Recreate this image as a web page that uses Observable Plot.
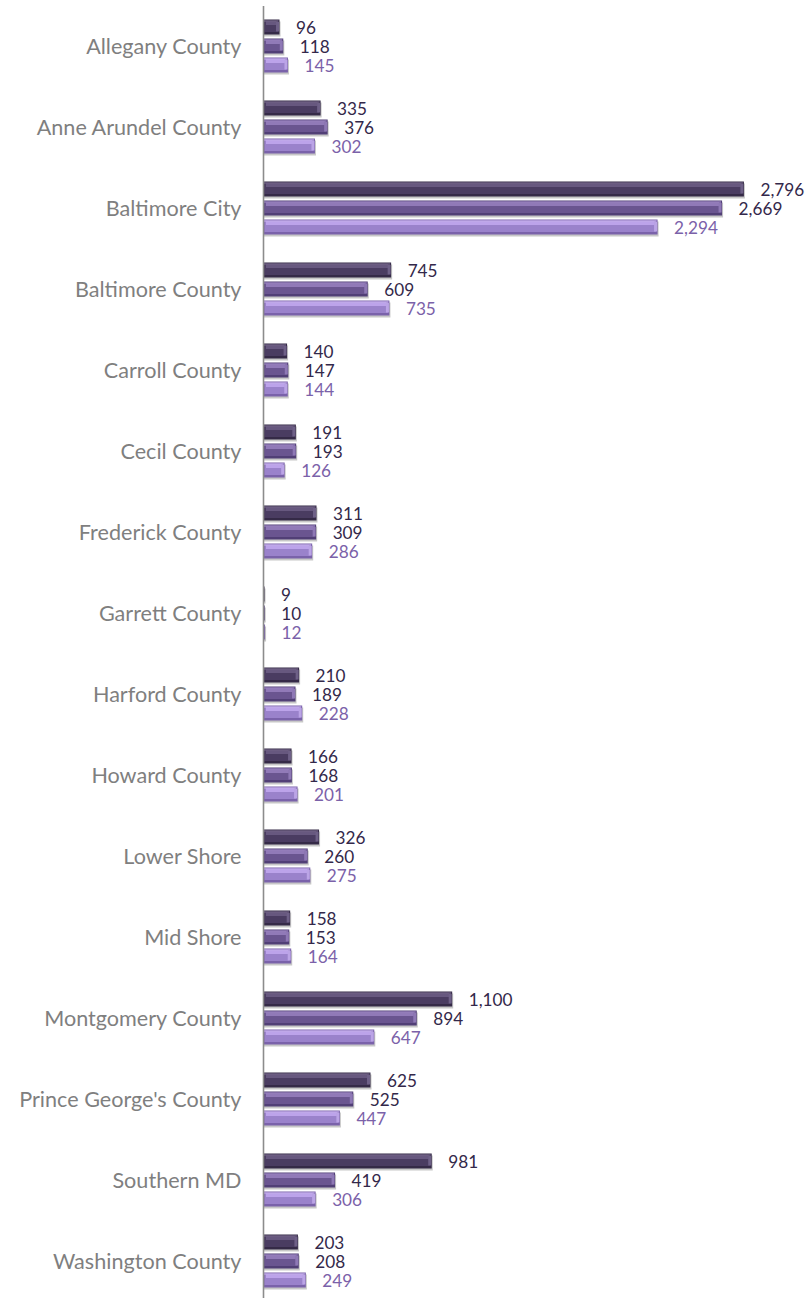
<!DOCTYPE html>
<html>
<head>
<meta charset="utf-8">
<script src="https://cdn.jsdelivr.net/npm/d3@7"></script>
<script src="https://cdn.jsdelivr.net/npm/@observablehq/plot@0.6"></script>
<style>
  html, body { margin: 0; padding: 0; background: #fff; overflow: hidden; }
  #chart svg { display: block; }
</style>
</head>
<body>
<div id="chart"></div>
<script>
const categories = [
  "Allegany County", "Anne Arundel County", "Baltimore City", "Baltimore County",
  "Carroll County", "Cecil County", "Frederick County", "Garrett County",
  "Harford County", "Howard County", "Lower Shore", "Mid Shore",
  "Montgomery County", "Prince George's County", "Southern MD", "Washington County"
];
const seriesNames = ["Series 1", "Series 2", "Series 3"];
const series1 = [96, 335, 2796, 745, 140, 191, 311, 9, 210, 166, 326, 158, 1100, 625, 981, 203];
const series2 = [118, 376, 2669, 609, 147, 193, 309, 10, 189, 168, 260, 153, 894, 525, 419, 208];
const series3 = [145, 302, 2294, 735, 144, 126, 286, 12, 228, 201, 275, 164, 647, 447, 306, 249];

const palette = {
  "Series 1": {edge: "#352a47", base: "#4a3c61", hi: "#67587f", top: "#85779b", end: "#6e6087", text: "#33284a"},
  "Series 2": {edge: "#513f76", base: "#6a5590", hi: "#917ab8", top: "#b29ad8", end: "#8e78b5", text: "#33284a"},
  "Series 3": {edge: "#7a62aa", base: "#9a82cb", hi: "#bca3ea", top: "#dcc6ff", end: "#bba4e6", text: "#7b61a9"}
};

const data = [];
[series1, series2, series3].forEach((vals, s) => {
  vals.forEach((v, i) => data.push({category: categories[i], series: seriesNames[s], value: v}));
});

const fmt = d3.format(",");
const common = {x: "value", y: "series", fy: "category"};

const chart = Plot.plot({
  width: 809,
  height: 1303,
  marginLeft: 263,
  marginRight: 30,
  marginTop: 5.5,
  marginBottom: 0,
  style: {fontFamily: "Lato", background: "#fff"},
  x: {domain: [0, 3000], axis: null},
  y: {domain: seriesNames, axis: null, paddingInner: 0.2, paddingOuter: 0.68},
  fy: {domain: categories, padding: 0, axis: null},
  color: {type: "identity"},
  marks: [
    Plot.axisFy({anchor: "left", tickSize: 0, tickPadding: 22, fontSize: 21.6, fill: "#7f7f7f", label: null, fontFamily: "Lato"}),
    // shadow
    Plot.barX(data, {...common, fill: "#b4b4b4", fillOpacity: 0.75, dy: 2, dx: 1}),
    // edge
    Plot.barX(data, {...common, fill: d => palette[d.series].edge}),
    // body
    Plot.barX(data, {...common, fill: d => palette[d.series].base, insetTop: 2, insetBottom: 2.5, insetLeft: 1.5, insetRight: 1.5}),
    // highlight
    Plot.barX(data, {...common, fill: d => palette[d.series].hi, insetTop: 2, insetBottom: 9.5, insetLeft: 3, insetRight: 3}),
    // top line
    Plot.barX(data, {...common, fill: d => palette[d.series].top, insetTop: 1, insetBottom: 13, insetLeft: 1, insetRight: 1}),
    // right end bevel
    Plot.tickX(data.filter(d => d.value > 50), {...common, stroke: d => palette[d.series].end, strokeWidth: 3, dx: -2.5, insetTop: 2.5, insetBottom: 3}),
    // value labels
    Plot.text(data, {
      ...common,
      text: d => fmt(d.value),
      textAnchor: "start",
      dx: 16,
      dy: 1,
      fontSize: 17.2,
      fontFamily: "Lato",
      fill: d => palette[d.series].text
    }),
    // vertical axis line
    Plot.ruleX([0], {stroke: "#8c8c8c", strokeWidth: 1.6})
  ]
});

document.getElementById("chart").appendChild(chart);
</script>
</body>
</html>
